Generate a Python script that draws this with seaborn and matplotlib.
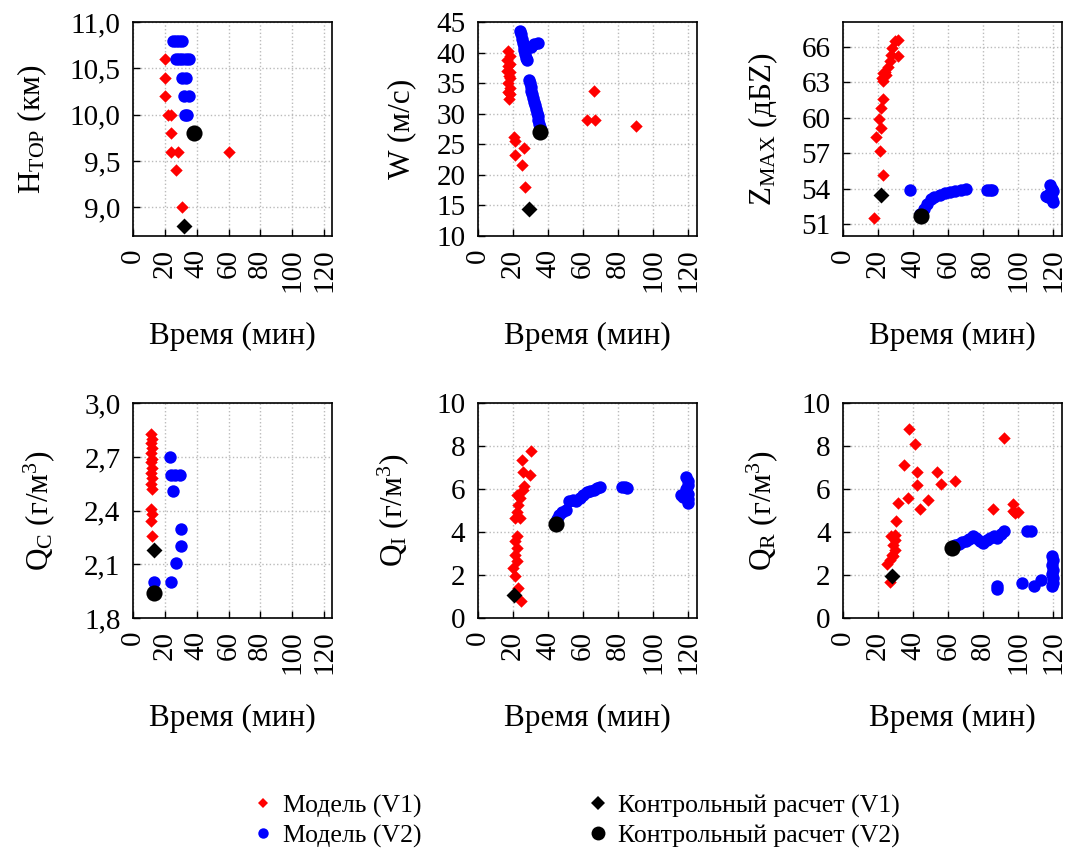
import matplotlib
matplotlib.use('Agg')
import matplotlib.pyplot as plt
import seaborn as sns
from matplotlib.lines import Line2D
from matplotlib.ticker import FuncFormatter, MultipleLocator

# ---- H_TOP (km)
htop_v1_t = [20, 20, 20, 22, 24, 24, 24, 28, 27, 31, 60]
htop_v1 = [10.6, 10.4, 10.2, 10.0, 10.0, 9.8, 9.6, 9.6, 9.4, 9.0, 9.6]
htop_v2_t = [25, 27, 29, 31, 27, 29, 31, 33, 35, 31, 33, 32, 35, 32.5, 34]
htop_v2 = [10.8, 10.8, 10.8, 10.8, 10.6, 10.6, 10.6, 10.6, 10.6,
           10.4, 10.4, 10.2, 10.2, 10.0, 10.0]
htop_c1_t, htop_c1 = [32], [8.8]
htop_c2_t, htop_c2 = [38], [9.8]

# ---- W (m/s)
w_v1_t = [17, 18, 16.5, 18.5, 17, 16.5, 18, 17.5, 18.5, 17, 18, 17, 18, 17.5,
          20.5, 21, 21, 26, 25, 27, 62, 66, 67, 90]
w_v1 = [40.2, 39.5, 38.8, 38.2, 37.8, 37.0, 36.8, 36.2, 35.8, 35.0, 34.3, 33.6, 33.2, 32.4,
        26.2, 25.5, 23.3, 24.4, 21.6, 18.0, 29.0, 33.8, 29.0, 28.0]
w_v2_t = [24, 24.5, 25, 25.5, 26, 26.5, 27, 27.5, 28, 30, 32, 34,
          29, 29.5, 30, 30.5, 31, 31.5, 32, 32.5, 33, 33.5, 34, 34.5, 35, 35.5, 36]
w_v2 = [43.6, 43.0, 42.3, 41.6, 41.0, 40.4, 39.8, 39.2, 38.8, 41.0, 41.5, 41.6,
        35.6, 35.0, 34.4, 33.8, 33.2, 32.6, 32.0, 31.4, 30.8, 30.2, 29.6, 29.0, 28.4, 27.8, 27.4]
w_c1_t, w_c1 = [29], [14.5]
w_c2_t, w_c2 = [35.5], [27.0]

# ---- Z_MAX (dBZ)
z_v1_t = [17.5, 22.5, 21, 19, 21.5, 20.5, 21.5, 22.5,
          22, 23, 24, 24.5, 25.5, 26.5, 27.5, 28, 29.5, 31.5, 31.5, 23]
z_v1 = [51.5, 55.2, 57.2, 58.4, 59.1, 59.9, 60.8, 61.6,
        63.4, 63.1, 63.9, 63.6, 64.3, 64.8, 65.3, 65.9, 66.5, 66.6, 65.2, 63.8]
z_v2_t = [38, 44, 46, 48, 50, 52, 55, 58, 61, 64, 67, 70, 82, 84, 85,
          118, 119, 118, 117, 119, 120, 120, 116]
z_v2 = [53.9, 51.9, 52.3, 52.7, 53.1, 53.3, 53.5, 53.6, 53.7, 53.8, 53.9, 54.0, 53.9, 53.9, 53.9,
        54.3, 54.0, 53.6, 53.3, 53.1, 52.9, 53.8, 53.4]
z_c1_t, z_c1 = [21.5], [53.5]
z_c2_t, z_c2 = [44.5], [51.7]

# ---- Q_C (g/m3)
qc_v1_t = [11, 12, 11, 12, 11, 12, 11, 12, 11, 12, 11, 12, 11, 12, 11, 12]
qc_v1 = [2.83, 2.80, 2.78, 2.75, 2.72, 2.69, 2.67, 2.64, 2.61, 2.58, 2.55, 2.52,
         2.41, 2.38, 2.34, 2.26]
qc_v2_t = [13.5, 23, 24, 26.5, 29.5, 25, 30, 30, 27, 24]
qc_v2 = [2.0, 2.7, 2.6, 2.6, 2.6, 2.51, 2.3, 2.2, 2.11, 2.0]
qc_c1_t, qc_c1 = [13], [2.18]
qc_c2_t, qc_c2 = [13.5], [1.94]

# ---- Q_I (g/m3)
qi_v1_t = [24.5, 23, 21, 20, 22, 21, 22, 21, 22,
           21, 24, 22, 23, 24, 22, 25.5, 26.5, 29.5, 25.5, 25, 30]
qi_v1 = [0.8, 1.4, 1.94, 2.33, 2.64, 2.95, 3.26, 3.57, 3.8,
         4.65, 4.65, 4.96, 5.27, 5.58, 5.74, 5.97, 6.16, 6.67, 6.82, 7.36, 7.8]
qi_v2_t = [45, 46, 48, 50, 52, 54, 56, 58, 60, 62, 64, 66, 68, 69.5, 82, 84, 85,
           119, 120, 120, 119, 120, 116, 117, 120, 120]
qi_v2 = [4.6, 4.8, 4.95, 5.05, 5.45, 5.5, 5.45, 5.6, 5.75, 5.85, 5.9, 5.95, 6.05, 6.1,
         6.1, 6.1, 6.05, 6.55, 6.4, 6.2, 6.0, 5.8, 5.75, 5.65, 5.55, 5.35]
qi_c1_t, qi_c1 = [20.5], [1.05]
qi_c2_t, qi_c2 = [44.5], [4.4]

# ---- Q_R (g/m3)
qr_v1_t = [26.5, 25, 26.5, 28, 28.5, 29.5, 28.5, 29.5, 29.5, 27.5, 30, 31.5, 35, 37.5, 37,
           41, 42, 42, 44, 48.5, 53.5, 56, 64, 85.5, 92, 97, 98, 100, 97]
qr_v1 = [1.7, 2.5, 2.71, 2.95, 2.87, 3.18, 3.41, 3.64, 3.88, 3.8, 4.5, 5.35, 7.15, 8.8, 5.6,
         8.1, 6.8, 6.2, 5.1, 5.5, 6.8, 6.25, 6.4, 5.1, 8.4, 5.3, 4.9, 4.95, 5.0]
qr_v2_t = [64, 66, 68, 70, 72, 74, 76, 78, 80, 82, 84, 86, 88, 90, 92, 105, 107,
           88, 88, 102, 109, 113, 119, 119.5, 119, 120, 119, 120, 119.5, 119]
qr_v2 = [3.4, 3.45, 3.55, 3.6, 3.7, 3.8, 3.75, 3.6, 3.5, 3.65, 3.75, 3.8, 3.75, 3.9, 4.05, 4.05, 4.05,
         1.5, 1.35, 1.65, 1.5, 1.75, 2.9, 2.7, 2.45, 2.25, 2.05, 1.85, 1.65, 1.5]
qr_c1_t, qr_c1 = [28], [1.95]
qr_c2_t, qr_c2 = [62], [3.25]

time_ticks = [0, 20, 40, 60, 80, 100, 120]

sns.set_style('ticks')
plt.rcParams['font.family'] = ['Liberation Serif', 'DejaVu Serif']
plt.rcParams['mathtext.fontset'] = 'custom'
plt.rcParams['mathtext.rm'] = 'Liberation Serif'
plt.rcParams['mathtext.it'] = 'Liberation Serif:italic'
plt.rcParams['text.color'] = 'black'
plt.rcParams['axes.labelcolor'] = 'black'
plt.rcParams['xtick.color'] = 'black'
plt.rcParams['ytick.color'] = 'black'

fig = plt.figure(figsize=(10.7, 8.52), dpi=100)

comma = FuncFormatter(lambda v, p: f'{v:.1f}'.replace('.', ','))
plain = FuncFormatter(lambda v, p: f'{v:.0f}')

panels = [
    # rect, data, ylabel, ylim, ystep, formatter, ylabel x
    ([0.1243, 0.723, 0.186, 0.251],
     (htop_v1_t, htop_v1, htop_v2_t, htop_v2, htop_c1_t, htop_c1, htop_c2_t, htop_c2),
     r'H$_{\mathrm{TOP}}$ (км)', (8.69, 11.0), 0.5, comma, -0.42),
    ([0.4467, 0.723, 0.2047, 0.251],
     (w_v1_t, w_v1, w_v2_t, w_v2, w_c1_t, w_c1, w_c2_t, w_c2),
     'W (м/с)', (10, 45), 5, plain, -0.28),
    ([0.788, 0.723, 0.2047, 0.251],
     (z_v1_t, z_v1, z_v2_t, z_v2, z_c1_t, z_c1, z_c2_t, z_c2),
     r'Z$_{\mathrm{MAX}}$ (дБZ)', (50, 68.1), 3, plain, -0.29),
    ([0.1243, 0.2746, 0.186, 0.252],
     (qc_v1_t, qc_v1, qc_v2_t, qc_v2, qc_c1_t, qc_c1, qc_c2_t, qc_c2),
     r'Q$_{\mathrm{C}}$ (г/м$^{3}$)', (1.8, 3.0), 0.3, comma, -0.38),
    ([0.4467, 0.2746, 0.2047, 0.252],
     (qi_v1_t, qi_v1, qi_v2_t, qi_v2, qi_c1_t, qi_c1, qi_c2_t, qi_c2),
     r'Q$_{\mathrm{I}}$ (г/м$^{3}$)', (0, 10), 2, plain, -0.305),
    ([0.788, 0.2746, 0.2047, 0.252],
     (qr_v1_t, qr_v1, qr_v2_t, qr_v2, qr_c1_t, qr_c1, qr_c2_t, qr_c2),
     r'Q$_{\mathrm{R}}$ (г/м$^{3}$)', (0, 10), 2, plain, -0.29),
]

for rect, d, ylab, ylim, ystep, fmt, ylx in panels:
    ax = fig.add_axes(rect)
    ax.grid(True, color='#bbbbbb', linestyle=':', linewidth=1.0)
    ax.set_axisbelow(True)
    sns.scatterplot(x=d[0], y=d[1], ax=ax, marker='D', color='red', s=40, linewidth=0, zorder=3)
    sns.scatterplot(x=d[2], y=d[3], ax=ax, marker='o', color='blue', s=80, linewidth=0, zorder=3)
    sns.scatterplot(x=d[4], y=d[5], ax=ax, marker='D', color='black', s=66, linewidth=0, zorder=4)
    sns.scatterplot(x=d[6], y=d[7], ax=ax, marker='o', color='black', s=135, linewidth=0, zorder=4)
    ax.set_xlim(0, 125)
    ax.set_ylim(*ylim)
    ax.set_xticks(time_ticks)
    ax.set_xticklabels([str(v) for v in time_ticks], rotation=90)
    ax.yaxis.set_major_locator(MultipleLocator(ystep))
    ax.yaxis.set_major_formatter(fmt)
    ax.tick_params(direction='in', length=5, width=1, labelsize=21, pad=9)
    for sp in ax.spines.values():
        sp.set_linewidth(1.2)
        sp.set_color('black')
    ax.set_xlabel('Время (мин)', fontsize=22.5)
    ax.set_ylabel(ylab, fontsize=22.5)
    ax.xaxis.set_label_coords(0.5, -0.40)
    ax.yaxis.set_label_coords(ylx, 0.5)

h_left = [
    Line2D([], [], marker='D', color='red', linestyle='none', markersize=5.5, markeredgewidth=0),
    Line2D([], [], marker='o', color='blue', linestyle='none', markersize=7.5, markeredgewidth=0),
]
h_right = [
    Line2D([], [], marker='D', color='black', linestyle='none', markersize=7, markeredgewidth=0),
    Line2D([], [], marker='o', color='black', linestyle='none', markersize=10, markeredgewidth=0),
]
leg_kw = dict(frameon=False, fontsize=18.5, handlelength=0.8, handletextpad=0.4,
              labelspacing=0.25, borderaxespad=0, loc='upper left')
fig.legend(h_left, ['Модель (V1)', 'Модель (V2)'],
           bbox_to_anchor=(242 / 1070, 1 - 784 / 852), **leg_kw)
fig.legend(h_right, ['Контрольный расчет (V1)', 'Контрольный расчет (V2)'],
           bbox_to_anchor=(577 / 1070, 1 - 784 / 852), **leg_kw)

fig.savefig('out.png', dpi=100)
